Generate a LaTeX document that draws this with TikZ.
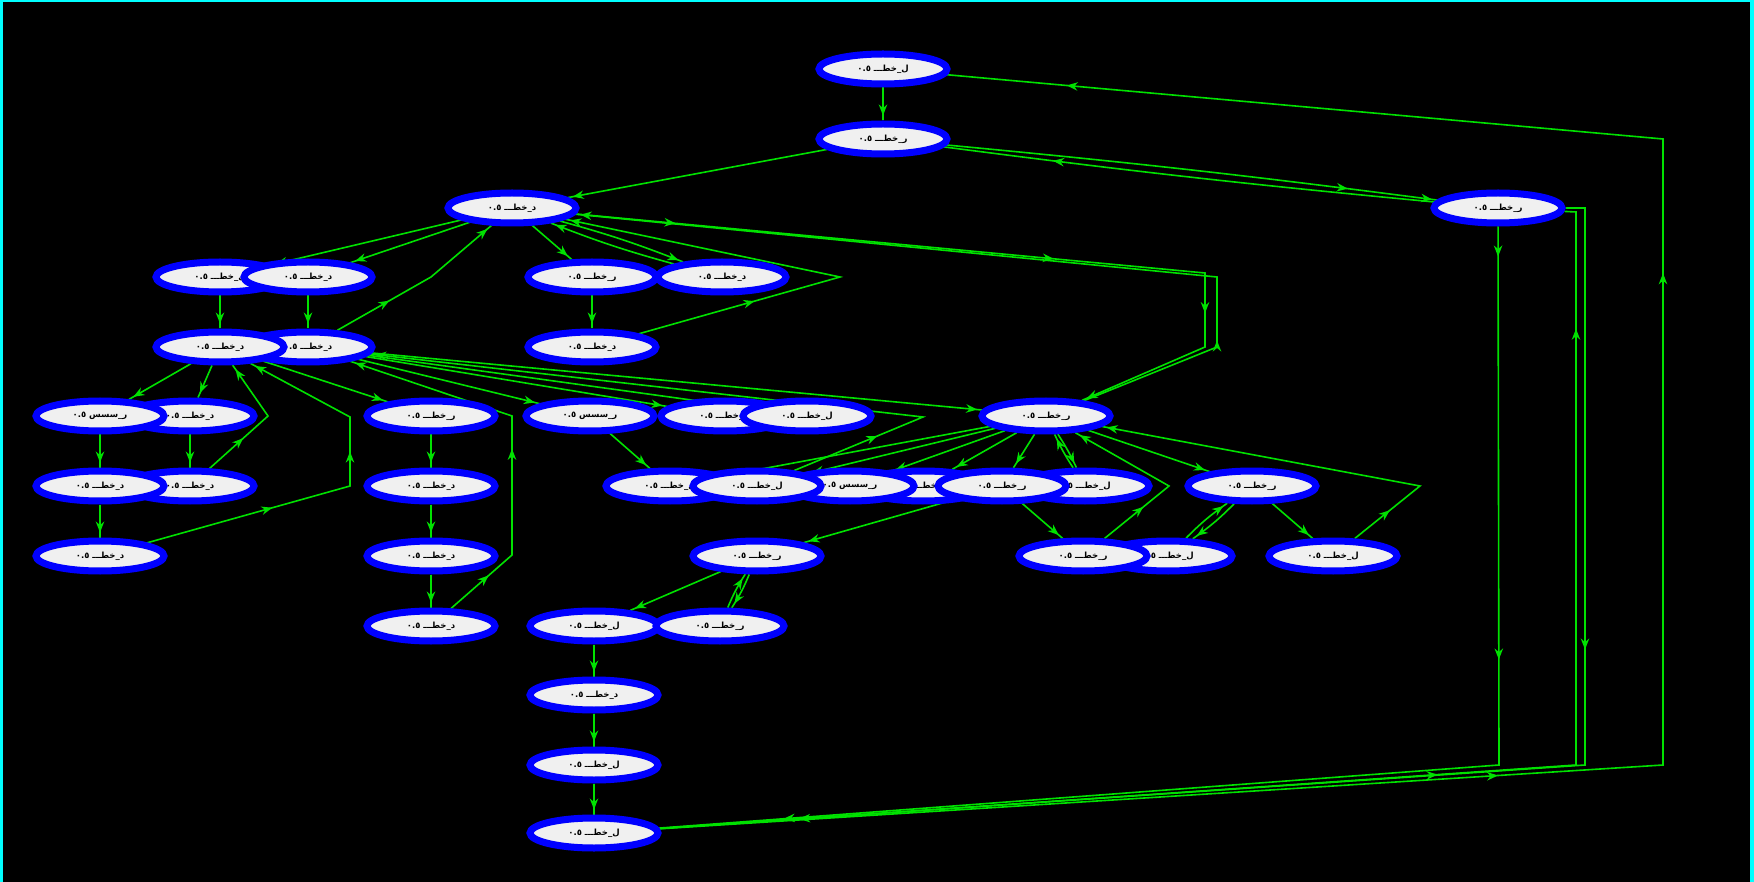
\documentclass[tikz,border=0pt]{standalone}
\usepackage{fontspec}
\newfontfamily\arabicfont[Script=Arabic]{DejaVu Sans Bold}
\TeXXeTstate=1
\usetikzlibrary{shapes.geometric,arrows.meta,decorations.markings}
\pgfdeclarelayer{bgl}
\pgfdeclarelayer{edgel}
\pgfsetlayers{bgl,edgel,main}
\definecolor{lg}{RGB}{0,225,0}
\definecolor{nodefill}{RGB}{240,240,240}
\definecolor{bordercyan}{RGB}{0,255,255}
\newcommand\mylbl[1]{{\arabicfont\fontsize{8.5}{9}\selectfont\beginR #1\endR}}
\tikzset{
  gnode/.style={ellipse, draw=blue, line width=7pt, fill=nodefill, text=black,
    minimum width=128pt, minimum height=30pt, inner sep=0pt},
  edge/.style={draw=lg, color=lg, line width=1.6pt},
  am/.style={postaction={decorate,decoration={markings,
    mark=at position #1 with {\arrow{Stealth[length=11pt,width=8.5pt]}}}}},
  ea/.style={am=-5pt},
}
\begin{document}
\begin{tikzpicture}[x=1pt,y=1pt]
\useasboundingbox (0,0) rectangle (1754,-882);
\begin{pgfonlayer}{bgl}
\fill[black] (0,0) rectangle (1754,-882);
\fill[bordercyan] (0,0) rectangle (3,-882);
\fill[bordercyan] (0,0) rectangle (1754,-2.5);
\fill[bordercyan] (1750,0) rectangle (1754,-882);
\end{pgfonlayer}

% nodes (drawing order sets overlaps)
\node[gnode] (N1) at (883,-69) {\mylbl{ل\_خطـــ ٠.٥}};
\node[gnode] (N2) at (883,-139) {\mylbl{ر\_خطـــ ٠.٥}};
\node[gnode] (N3) at (512,-208) {\mylbl{د\_خطـــ ٠.٥}};
\node[gnode] (N4) at (1498,-208) {\mylbl{ر\_خطـــ ٠.٥}};
\node[gnode] (N5) at (220,-277) {\mylbl{ل\_خطـــ ٠.٥}};
\node[gnode] (N6) at (308,-277) {\mylbl{د\_خطـــ ٠.٥}};
\node[gnode] (N7) at (592,-277) {\mylbl{ر\_خطـــ ٠.٥}};
\node[gnode] (N8) at (722,-277) {\mylbl{د\_خطـــ ٠.٥}};
\node[gnode] (N10) at (308,-347) {\mylbl{د\_خطـــ ٠.٥}};
\node[gnode] (N9) at (220,-347) {\mylbl{د\_خطـــ ٠.٥}};
\node[gnode] (N11) at (592,-347) {\mylbl{د\_خطـــ ٠.٥}};
\node[gnode] (N13) at (190,-416) {\mylbl{د\_خطـــ ٠.٥}};
\node[gnode] (N12) at (100,-416) {\mylbl{ر\_سسس ٠.٥}};
\node[gnode] (N14) at (431,-416) {\mylbl{ر\_خطـــ ٠.٥}};
\node[gnode] (N15) at (590,-416) {\mylbl{ر\_سسس ٠.٥}};
\node[gnode] (N16) at (725,-416) {\mylbl{ل\_خطـــ ٠.٥}};
\node[gnode] (N17) at (807,-416) {\mylbl{ل\_خطـــ ٠.٥}};
\node[gnode] (N18) at (1046,-416) {\mylbl{ر\_خطـــ ٠.٥}};
\node[gnode] (N20) at (190,-486) {\mylbl{د\_خطـــ ٠.٥}};
\node[gnode] (N19) at (100,-486) {\mylbl{د\_خطـــ ٠.٥}};
\node[gnode] (N21) at (431,-486) {\mylbl{د\_خطـــ ٠.٥}};
\node[gnode] (N22) at (670,-486) {\mylbl{ل\_خطـــ ٠.٥}};
\node[gnode] (N25) at (923,-486) {\mylbl{ل\_خطـــ ٠.٥}};
\node[gnode] (N24) at (850,-486) {\mylbl{ر\_سسس ٠.٥}};
\node[gnode] (N23) at (757,-486) {\mylbl{ل\_خطـــ ٠.٥}};
\node[gnode] (N27) at (1085,-486) {\mylbl{ل\_خطـــ ٠.٥}};
\node[gnode] (N26) at (1002,-486) {\mylbl{ر\_خطـــ ٠.٥}};
\node[gnode] (N28) at (1252,-486) {\mylbl{ر\_خطـــ ٠.٥}};
\node[gnode] (N29) at (100,-556) {\mylbl{د\_خطـــ ٠.٥}};
\node[gnode] (N30) at (431,-556) {\mylbl{د\_خطـــ ٠.٥}};
\node[gnode] (N31) at (757,-556) {\mylbl{ر\_خطـــ ٠.٥}};
\node[gnode] (N33) at (1168,-556) {\mylbl{ل\_خطـــ ٠.٥}};
\node[gnode] (N32) at (1083,-556) {\mylbl{ر\_خطـــ ٠.٥}};
\node[gnode] (N34) at (1333,-556) {\mylbl{ل\_خطـــ ٠.٥}};
\node[gnode] (N35) at (431,-626) {\mylbl{د\_خطـــ ٠.٥}};
\node[gnode] (N36) at (594,-626) {\mylbl{ل\_خطـــ ٠.٥}};
\node[gnode] (N37) at (720,-626) {\mylbl{ر\_خطـــ ٠.٥}};
\node[gnode] (N38) at (594,-695) {\mylbl{د\_خطـــ ٠.٥}};
\node[gnode] (N39) at (594,-765) {\mylbl{ل\_خطـــ ٠.٥}};
\node[gnode] (N40) at (594,-833) {\mylbl{ل\_خطـــ ٠.٥}};

% waypoints
\coordinate (wA) at (431,-277);
\coordinate (wB) at (840,-277);
\coordinate (wC1) at (1205,-273);
\coordinate (wC2) at (1205,-347);
\coordinate (wD1) at (1217,-347);
\coordinate (wD2) at (1217,-277);
\coordinate (wE) at (268,-416);
\coordinate (wF1) at (350,-486);
\coordinate (wF2) at (350,-417);
\coordinate (wG) at (923,-417);
\coordinate (wH1) at (512,-555);
\coordinate (wH2) at (512,-416);
\coordinate (wI) at (1420,-486);
\coordinate (wJ) at (1169,-486);
\coordinate (wK1) at (1499,-765);
\coordinate (wL1) at (1585,-208);
\coordinate (wL2) at (1585,-765);
\coordinate (wM1) at (1576,-765);
\coordinate (wM2) at (1576,-212);
\coordinate (wN1) at (1663,-765);
\coordinate (wN2) at (1663,-139);

\begin{pgfonlayer}{edgel}
% vertical chains
\draw[edge,ea] (N1) -- (N2);
\draw[edge,ea] (N5) -- (N9);
\draw[edge,ea] (N6) -- (N10);
\draw[edge,ea] (N7) -- (N11);
\draw[edge,ea] (N12) -- (N19);
\draw[edge,ea] (N19) -- (N29);
\draw[edge,ea] (N13) -- (N20);
\draw[edge,ea] (N14) -- (N21);
\draw[edge,ea] (N21) -- (N30);
\draw[edge,ea] (N30) -- (N35);
\draw[edge,ea] (N36) -- (N38);
\draw[edge,ea] (N38) -- (N39);
\draw[edge,ea] (N39) -- (N40);

% top
\draw[edge,ea] (N2) -- (N3);
\draw[edge,ea,am=-90pt] (N2) to[bend left=1] (N4);
\draw[edge,am=-110pt] (N4) to[bend left=1] (N2);

% N3 group
\draw[edge,ea] (N3) -- (N5);
\draw[edge,ea] (N3) -- (N6);
\draw[edge,ea] (N3) -- (N7);
\draw[edge,ea] (N3) to[bend left=3] (N8);
\draw[edge,ea] (N8) to[bend left=3] (N3);
\draw[edge,am=60pt,ea] (N10) -- (wA) -- (N3);
\draw[edge,am=120pt,ea] (N11) -- (wB) -- (N3);
\draw[edge,am=100pt,am=480pt,am=672pt,ea] (N3) -- (wC1) -- (wC2) -- (N18);
\draw[edge,am=150pt,ea] (N18) -- (wD1) -- (wD2) -- (N3);

% N9 / N10 group
\draw[edge,ea] (N9) -- (N12);
\draw[edge,ea] (N9) -- (N13);
\draw[edge,am=45pt,ea] (N20) -- (wE) -- (N9);
\draw[edge,am=130pt,am=245pt,ea] (N29) -- (wF1) -- (wF2) -- (N9);
\draw[edge,ea] (N9) -- (N14);
\draw[edge,ea] (N10) -- (N15);
\draw[edge,ea] (N10) -- (N16);
\draw[edge,ea] (N10) -- (N17);
\draw[edge,ea] (N10) -- (N18);
\draw[edge,am=90pt,ea] (N23) -- (wG) -- (N10);
\draw[edge,am=50pt,am=187pt,ea] (N35) -- (wH1) -- (wH2) -- (N10);
\draw[edge,ea] (N15) -- (N22);

% N18 group
\draw[edge,ea] (N18) -- (N22);
\draw[edge,ea] (N18) -- (N23);
\draw[edge,ea] (N18) -- (N24);
\draw[edge,ea] (N18) -- (N25);
\draw[edge,ea] (N18) -- (N26);
\draw[edge,ea] (N18) to[bend left=4] (N27);
\draw[edge,ea] (N27) to[bend left=4] (N18);
\draw[edge,ea] (N18) -- (N28);
\draw[edge,am=45pt,ea] (N34) -- (wI) -- (N18);
\draw[edge,am=50pt,ea] (N32) -- (wJ) -- (N18);
\draw[edge,ea] (N26) -- (N32);
\draw[edge,ea] (N28) -- (N34);
\draw[edge,ea] (N28) to[bend left=5] (N33);
\draw[edge,ea] (N33) to[bend left=5] (N28);
\draw[edge,ea] (N26) -- (N31);
\draw[edge,ea] (N31) -- (N36);
\draw[edge,ea] (N31) to[bend left=5] (N37);
\draw[edge,ea] (N37) to[bend left=5] (N31);

% long edges to the bottom
\draw[edge,am=30pt,am=433pt,am=-125pt] (N4) -- (wK1) -- (N40);
\draw[edge,am=461pt,am=-140pt] (N4) -- (wL1) -- (wL2) -- (N40);
\draw[edge,am=780pt,am=1355pt] (N40) -- (wM1) -- (wM2) -- (N4);
\draw[edge,am=840pt,am=1497pt,am=-120pt] (N40) -- (wN1) -- (wN2) -- (N1);
\end{pgfonlayer}
\end{tikzpicture}
\end{document}
